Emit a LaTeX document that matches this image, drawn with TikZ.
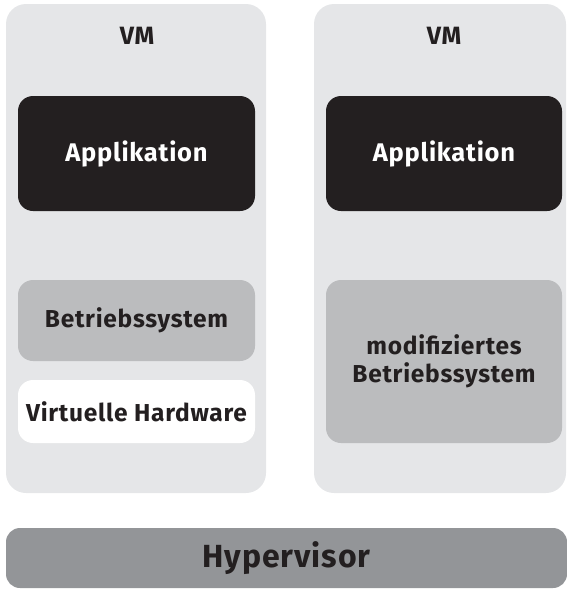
\documentclass[tikz,border=0pt]{standalone}
\usepackage{fontspec}
\setmainfont{Fira Sans}[LetterSpace=3]
\usepackage{tikz}
\usetikzlibrary{positioning}

\definecolor{vmgrey}{RGB}{229,230,232}
\definecolor{osgrey}{RGB}{187,188,190}
\definecolor{hvgrey}{RGB}{147,149,152}
\definecolor{inkblack}{RGB}{35,31,32}

\tikzset{
  vmpanel/.style={fill=vmgrey, rounded corners=20pt, inner sep=0pt, minimum height=489pt},
  layerbox/.style={rounded corners=15pt, inner sep=0pt, minimum width=237pt, align=center, font=\bfseries\fontsize{24.5}{28.5}\selectfont, text=inkblack},
}

\begin{document}
\begin{tikzpicture}[x=1pt,y=1pt,yscale=-1,xscale=1]
%set diagram left start at 0, and has height of 590
\useasboundingbox (0,0) rectangle (567,590);

%Shape: VM panels
\node [vmpanel, minimum width=260pt] (vmleft) at (136,248.5) {};
\node [vmpanel, minimum width=252pt] (vmright) at (440,248.5) {};

%Shape: Hypervisor bar
\node [fill=hvgrey, rounded corners=14pt, inner sep=0pt, minimum width=561pt, minimum height=60pt, text=inkblack, font=\bfseries\fontsize{32}{37}\selectfont] (hypervisor) at (286.5,558) {Hypervisor};

% Text Node
\node [text=inkblack, font=\bfseries\fontsize{25}{29}\selectfont] (vmlefttitle) at (137,36) {VM};
% Text Node
\node [text=inkblack, font=\bfseries\fontsize{25}{29}\selectfont] (vmrighttitle) at (444,36) {VM};

%Shape: left stack
\node [layerbox, fill=inkblack, text=white, minimum height=115pt, font=\bfseries\fontsize{25.5}{30}\selectfont] (appleft) at (136.5,153.5) {Applikation};
\node [layerbox, fill=osgrey, minimum height=81pt] (osleft) at (136.5,320.5) {Betriebssystem};
\node [layerbox, fill=white, minimum height=63pt] (hwleft) at (136.5,411.5) {Virtuelle Hardware};

%Shape: right stack
\node [layerbox, fill=inkblack, text=white, minimum width=236pt, minimum height=115pt, font=\bfseries\fontsize{25.5}{30}\selectfont] (appright) at (444,153.5) {Applikation};
\node [layerbox, fill=osgrey, minimum width=236pt, minimum height=163pt] (osright) at (444,361.5) {modifiziertes\\Betriebssystem};

\end{tikzpicture}
\end{document}
